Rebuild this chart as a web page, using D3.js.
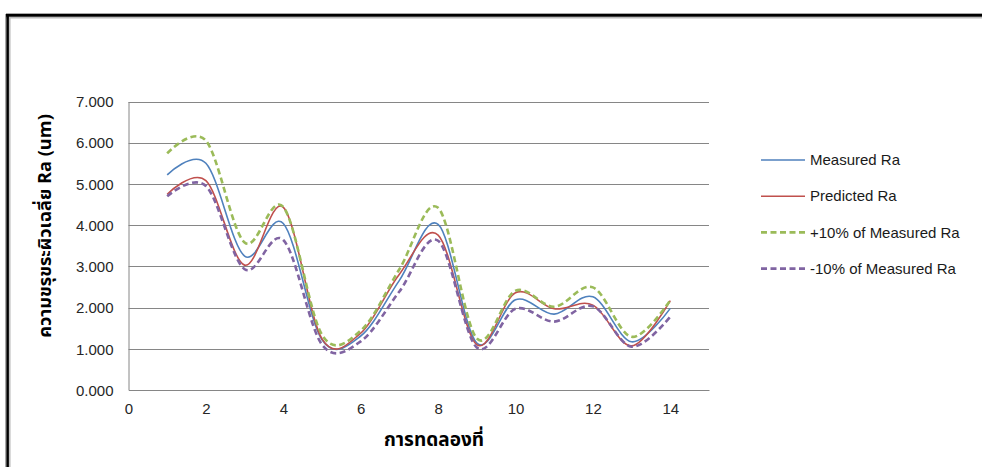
<!DOCTYPE html>
<html>
<head>
<meta charset="utf-8">
<script src="https://cdn.jsdelivr.net/npm/d3@7/dist/d3.min.js"></script>
<style>
  html, body { margin: 0; padding: 0; background: #fff; }
  svg { display: block; }
  .tick text { font-family: "Liberation Sans", Arial, sans-serif; font-size: 15px; fill: #262626; }
</style>
</head>
<body>
<svg id="chart" width="982" height="467"></svg>
<script>
// Trial number (x) for each run
const trials = [1, 2, 3, 4, 5, 6, 7, 8, 9, 10, 11, 12, 13, 14];

// Surface roughness Ra (um)
const measuredRa  = [5.22, 5.50, 3.25, 4.04, 1.22, 1.31, 2.66, 4.02, 1.14, 2.19, 1.84, 2.26, 1.17, 1.98];
const predictedRa = [4.75, 5.08, 3.03, 4.43, 1.24, 1.38, 2.81, 3.76, 1.10, 2.36, 1.97, 2.06, 1.07, 2.17];
const plus10Ra    = [5.74, 6.05, 3.58, 4.44, 1.34, 1.44, 2.93, 4.42, 1.25, 2.41, 2.02, 2.49, 1.29, 2.18];
const minus10Ra   = [4.70, 4.95, 2.93, 3.64, 1.10, 1.18, 2.39, 3.62, 1.03, 1.97, 1.66, 2.03, 1.05, 1.78];

const seriesNames = ["Measured Ra", "Predicted Ra", "+10% of Measured Ra", "-10% of Measured Ra"];

// Axis ticks
const xTicks = [0, 2, 4, 6, 8, 10, 12, 14];
const yTicks = [0, 1, 2, 3, 4, 5, 6, 7];

const xTitle = "การทดลองที่";
const yTitle = "ความขรุขระผิวเฉลี่ย Ra (um)";

const series = [
  { name: seriesNames[0], values: measuredRa,  color: "#4F81BD", width: 1.6, dash: null },
  { name: seriesNames[1], values: predictedRa, color: "#C0504D", width: 1.6, dash: null },
  { name: seriesNames[2], values: plus10Ra,    color: "#9BBB59", width: 2.6, dash: "6,3.5" },
  { name: seriesNames[3], values: minus10Ra,   color: "#8064A2", width: 2.6, dash: "6,3.5" }
];

const svg = d3.select("#chart");

// Outer frame (top and left edges show inside the canvas)
const frame = svg.append("g");
frame.append("line").attr("x1", 6).attr("x2", 982).attr("y1", 13.5).attr("y2", 13.5).attr("stroke", "#aaa").attr("stroke-width", 1);
frame.append("line").attr("x1", 6).attr("x2", 982).attr("y1", 17.8).attr("y2", 17.8).attr("stroke", "#bbb").attr("stroke-width", 1.5);
frame.append("line").attr("x1", 5.5).attr("x2", 5.5).attr("y1", 14).attr("y2", 467).attr("stroke", "#aaa").attr("stroke-width", 1);
frame.append("line").attr("x1", 9.8).attr("x2", 9.8).attr("y1", 17).attr("y2", 467).attr("stroke", "#bbb").attr("stroke-width", 1.5);
frame.append("line").attr("x1", 6).attr("x2", 982).attr("y1", 15.4).attr("y2", 15.4).attr("stroke", "#000").attr("stroke-width", 2.6);
frame.append("line").attr("x1", 7.6).attr("x2", 7.6).attr("y1", 14.1).attr("y2", 467).attr("stroke", "#000").attr("stroke-width", 2.6);

// Plot area
const plot = { left: 128.5, right: 709, top: 101.5, bottom: 390 };

const x = d3.scaleLinear().domain([0, 15]).range([plot.left, plot.right]);
const y = d3.scaleLinear().domain([0, 7]).range([plot.bottom, plot.top]);

// Horizontal gridlines
svg.append("g")
  .selectAll("line")
  .data(yTicks.filter(d => d > 0))
  .join("line")
  .attr("x1", plot.left).attr("x2", plot.right)
  .attr("y1", d => Math.round(y(d)) + 0.5).attr("y2", d => Math.round(y(d)) + 0.5)
  .attr("stroke", "#868686").attr("stroke-width", 1);

// Y axis
const yAxis = svg.append("g")
  .attr("transform", `translate(${plot.left},0)`)
  .call(d3.axisLeft(y).tickValues(yTicks).tickFormat(d3.format(".3f")).tickSize(0).tickPadding(15));
yAxis.select(".domain").attr("stroke", "#868686");
yAxis.selectAll(".tick text").attr("dy", "0.35em");

// X axis
const xAxis = svg.append("g")
  .attr("transform", `translate(0,${plot.bottom})`)
  .call(d3.axisBottom(x).tickValues(xTicks).tickFormat(d3.format("d")).tickSize(0).tickPadding(13));
xAxis.select(".domain").attr("stroke", "#868686");
xAxis.selectAll(".tick text").attr("dy", "0.71em");

// Smoothed series lines
const line = d3.line()
  .x((d, i) => x(trials[i]))
  .y(d => y(d))
  .curve(d3.curveCardinal.tension(0));

svg.append("g")
  .selectAll("path")
  .data(series)
  .join("path")
  .attr("d", s => line(s.values))
  .attr("fill", "none")
  .attr("stroke", s => s.color)
  .attr("stroke-width", s => s.width)
  .attr("stroke-dasharray", s => s.dash)
  .attr("stroke-linejoin", "round");

// Axis titles
const thaiFont = '"Noto Sans Thai", "Noto Sans Thai UI", Tahoma, "DejaVu Sans", "Liberation Sans", sans-serif';
svg.append("text")
  .attr("x", 434).attr("y", 446)
  .attr("text-anchor", "middle")
  .attr("font-family", thaiFont)
  .attr("font-weight", "bold")
  .attr("font-size", 19)
  .attr("fill", "#000")
  .text(xTitle);

svg.append("text")
  .attr("transform", "translate(51,226) rotate(-90)")
  .attr("text-anchor", "middle")
  .attr("font-family", thaiFont)
  .attr("font-weight", "bold")
  .attr("font-size", 18.2)
  .attr("fill", "#000")
  .text(yTitle);

// Legend
const legend = svg.append("g").attr("transform", "translate(761,160)");
const rows = legend.selectAll("g")
  .data(series)
  .join("g")
  .attr("transform", (d, i) => `translate(0,${i * 36.2})`);
rows.append("line")
  .attr("x1", 0).attr("x2", 44).attr("y1", 0).attr("y2", 0)
  .attr("stroke", d => d.color)
  .attr("stroke-width", d => d.width)
  .attr("stroke-dasharray", d => d.dash);
rows.append("text")
  .attr("x", 49).attr("y", 0).attr("dy", "0.35em")
  .attr("font-family", '"Liberation Sans", Arial, sans-serif')
  .attr("font-size", 15)
  .attr("fill", "#1a1a1a")
  .text(d => d.name);
</script>
</body>
</html>
